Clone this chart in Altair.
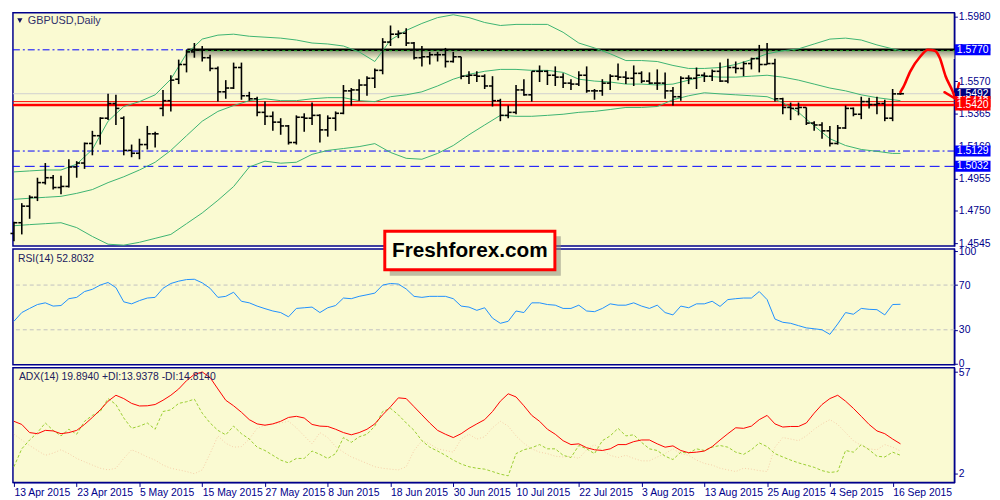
import pandas as pd
import altair as alt

# GBPUSD daily bars, 13 Apr 2015 .. 17 Sep 2015
open_ = [1.4607, 1.4675, 1.4780, 1.4836, 1.4929, 1.4960, 1.4898, 1.4905, 1.5028, 1.5053,
         1.5177, 1.5226, 1.5337, 1.5430, 1.5337, 1.5133, 1.5115, 1.5170, 1.5238, 1.5399,
         1.5448, 1.5584, 1.5677, 1.5757, 1.5770, 1.5720, 1.5652, 1.5504, 1.5528, 1.5658,
         1.5479, 1.5460, 1.5374, 1.5349, 1.5312, 1.5288, 1.5183, 1.5343, 1.5337, 1.5355,
         1.5263, 1.5337, 1.5368, 1.5510, 1.5516, 1.5547, 1.5590, 1.5640, 1.5819, 1.5869,
         1.5875, 1.5813, 1.5720, 1.5726, 1.5739, 1.5739, 1.5696, 1.5726, 1.5603, 1.5609,
         1.5603, 1.5541, 1.5448, 1.5355, 1.5374, 1.5516, 1.5485, 1.5634, 1.5634, 1.5609,
         1.5597, 1.5559, 1.5553, 1.5609, 1.5510, 1.5510, 1.5559, 1.5603, 1.5597, 1.5590,
         1.5621, 1.5572, 1.5559, 1.5559, 1.5510, 1.5473, 1.5590, 1.5590, 1.5609, 1.5603,
         1.5634, 1.5572, 1.5658, 1.5652, 1.5683, 1.5714, 1.5677, 1.5683, 1.5460, 1.5405,
         1.5399, 1.5405, 1.5306, 1.5294, 1.5257, 1.5177, 1.5275, 1.5399, 1.5362, 1.5442,
         1.5423, 1.5430, 1.5337, 1.5491]
high = [1.4681, 1.4799, 1.4849, 1.4960, 1.5053, 1.4978, 1.4972, 1.5077, 1.5065, 1.5183,
        1.5257, 1.5343, 1.5491, 1.5485, 1.5349, 1.5170, 1.5207, 1.5288, 1.5251, 1.5516,
        1.5609, 1.5708, 1.5770, 1.5813, 1.5794, 1.5739, 1.5665, 1.5578, 1.5689, 1.5689,
        1.5504, 1.5473, 1.5442, 1.5380, 1.5337, 1.5294, 1.5355, 1.5368, 1.5436, 1.5362,
        1.5355, 1.5380, 1.5547, 1.5528, 1.5584, 1.5603, 1.5652, 1.5844, 1.5924, 1.5893,
        1.5906, 1.5819, 1.5794, 1.5757, 1.5757, 1.5782, 1.5757, 1.5726, 1.5634, 1.5634,
        1.5615, 1.5603, 1.5460, 1.5417, 1.5547, 1.5584, 1.5634, 1.5671, 1.5640, 1.5665,
        1.5621, 1.5584, 1.5634, 1.5665, 1.5522, 1.5584, 1.5615, 1.5683, 1.5634, 1.5671,
        1.5634, 1.5627, 1.5646, 1.5627, 1.5535, 1.5603, 1.5609, 1.5658, 1.5627, 1.5646,
        1.5689, 1.5714, 1.5696, 1.5696, 1.5720, 1.5801, 1.5813, 1.5714, 1.5467, 1.5436,
        1.5436, 1.5405, 1.5318, 1.5312, 1.5288, 1.5294, 1.5417, 1.5405, 1.5473, 1.5467,
        1.5473, 1.5454, 1.5522, 1.5504]
low = [1.4557, 1.4601, 1.4700, 1.4812, 1.4917, 1.4886, 1.4855, 1.4898, 1.4960, 1.5016,
       1.5102, 1.5170, 1.5325, 1.5294, 1.5102, 1.5090, 1.5077, 1.5139, 1.5152, 1.5349,
       1.5380, 1.5553, 1.5627, 1.5720, 1.5696, 1.5634, 1.5442, 1.5460, 1.5522, 1.5454,
       1.5448, 1.5349, 1.5294, 1.5257, 1.5232, 1.5170, 1.5170, 1.5251, 1.5294, 1.5183,
       1.5220, 1.5257, 1.5362, 1.5417, 1.5448, 1.5479, 1.5528, 1.5615, 1.5794, 1.5844,
       1.5794, 1.5708, 1.5665, 1.5677, 1.5696, 1.5658, 1.5689, 1.5584, 1.5553, 1.5566,
       1.5522, 1.5411, 1.5318, 1.5337, 1.5362, 1.5479, 1.5442, 1.5566, 1.5547, 1.5541,
       1.5528, 1.5516, 1.5541, 1.5498, 1.5454, 1.5479, 1.5516, 1.5578, 1.5553, 1.5541,
       1.5559, 1.5553, 1.5516, 1.5460, 1.5417, 1.5448, 1.5553, 1.5522, 1.5566, 1.5572,
       1.5566, 1.5559, 1.5621, 1.5603, 1.5646, 1.5627, 1.5677, 1.5442, 1.5362, 1.5325,
       1.5355, 1.5294, 1.5257, 1.5207, 1.5158, 1.5170, 1.5269, 1.5349, 1.5331, 1.5399,
       1.5362, 1.5318, 1.5318, 1.5485]
close = [1.4675, 1.4780, 1.4836, 1.4929, 1.4960, 1.4898, 1.4905, 1.5028, 1.5053, 1.5177,
         1.5226, 1.5337, 1.5430, 1.5399, 1.5133, 1.5115, 1.5170, 1.5238, 1.5238, 1.5448,
         1.5578, 1.5677, 1.5757, 1.5770, 1.5720, 1.5652, 1.5504, 1.5528, 1.5658, 1.5479,
         1.5460, 1.5374, 1.5349, 1.5312, 1.5288, 1.5183, 1.5343, 1.5337, 1.5355, 1.5263,
         1.5337, 1.5368, 1.5510, 1.5516, 1.5547, 1.5590, 1.5640, 1.5819, 1.5869, 1.5875,
         1.5813, 1.5720, 1.5726, 1.5739, 1.5739, 1.5696, 1.5726, 1.5603, 1.5609, 1.5603,
         1.5541, 1.5448, 1.5355, 1.5374, 1.5516, 1.5485, 1.5634, 1.5634, 1.5609, 1.5597,
         1.5559, 1.5553, 1.5609, 1.5510, 1.5510, 1.5559, 1.5603, 1.5597, 1.5590, 1.5621,
         1.5572, 1.5559, 1.5559, 1.5510, 1.5473, 1.5590, 1.5590, 1.5609, 1.5603, 1.5634,
         1.5572, 1.5658, 1.5652, 1.5683, 1.5714, 1.5677, 1.5683, 1.5460, 1.5405, 1.5399,
         1.5405, 1.5306, 1.5294, 1.5257, 1.5177, 1.5275, 1.5399, 1.5362, 1.5442, 1.5423,
         1.5430, 1.5337, 1.5491, 1.5492]

# Bollinger bands (20), read every second bar
band_idx = list(range(0, 113, 2)) + [113]
bb_upper = [1.4997, 1.5003, 1.5009, 1.5009, 1.5046, 1.5139, 1.5318, 1.5411, 1.5442, 1.5485,
            1.5584, 1.5745, 1.5838, 1.5863, 1.5869, 1.5856, 1.5850, 1.5844, 1.5832, 1.5813,
            1.5807, 1.5794, 1.5757, 1.5696, 1.5832, 1.5893, 1.5937, 1.5974, 1.5992, 1.5974,
            1.5943, 1.5924, 1.5931, 1.5931, 1.5931, 1.5881, 1.5813, 1.5782, 1.5745, 1.5702,
            1.5702, 1.5696, 1.5671, 1.5652, 1.5652, 1.5658, 1.5677, 1.5708, 1.5745, 1.5764,
            1.5776, 1.5807, 1.5838, 1.5844, 1.5832, 1.5801, 1.5776, 1.5764]
bb_middle = [1.4823, 1.4830, 1.4836, 1.4842, 1.4861, 1.4885, 1.4929, 1.4966, 1.5009, 1.5058,
             1.5133, 1.5226, 1.5318, 1.5380, 1.5417, 1.5448, 1.5460, 1.5448, 1.5448, 1.5460,
             1.5467, 1.5467, 1.5448, 1.5442, 1.5473, 1.5485, 1.5504, 1.5541, 1.5584, 1.5615,
             1.5634, 1.5646, 1.5646, 1.5640, 1.5640, 1.5627, 1.5584, 1.5572, 1.5566, 1.5553,
             1.5553, 1.5547, 1.5553, 1.5578, 1.5603, 1.5597, 1.5597, 1.5603, 1.5609, 1.5597,
             1.5578, 1.5553, 1.5528, 1.5510, 1.5485, 1.5467, 1.5454, 1.5448]
bb_lower = [1.4656, 1.4663, 1.4669, 1.4675, 1.4644, 1.4588, 1.4539, 1.4533, 1.4551, 1.4576,
            1.4601, 1.4669, 1.4737, 1.4817, 1.4904, 1.5028, 1.5065, 1.5052, 1.5058, 1.5108,
            1.5133, 1.5145, 1.5157, 1.5176, 1.5120, 1.5083, 1.5077, 1.5114, 1.5164, 1.5232,
            1.5294, 1.5355, 1.5349, 1.5349, 1.5355, 1.5362, 1.5374, 1.5380, 1.5392, 1.5405,
            1.5405, 1.5411, 1.5454, 1.5479, 1.5498, 1.5491, 1.5485, 1.5479, 1.5473, 1.5436,
            1.5374, 1.5288, 1.5207, 1.5164, 1.5139, 1.5127, 1.5114, 1.5114]

rsi = [37.6, 45.4, 49.1, 52.6, 54.1, 51.2, 51.7, 57.8, 59.0, 64.2,
       66.2, 70.0, 72.3, 67.7, 55.0, 53.2, 56.1, 58.4, 59.0, 67.1,
       71.4, 73.5, 74.9, 75.2, 72.0, 67.1, 59.0, 59.9, 63.6, 55.5,
       54.1, 51.2, 48.9, 46.8, 45.4, 41.6, 49.1, 49.7, 50.3, 45.4,
       49.7, 51.7, 58.4, 57.8, 59.9, 61.3, 62.8, 70.0, 71.4, 70.9,
       66.5, 59.9, 59.0, 59.9, 59.9, 59.9, 57.8, 51.2, 50.3, 47.4,
       49.7, 40.4, 35.8, 37.6, 46.8, 45.4, 54.1, 54.1, 52.6, 52.0,
       49.1, 49.1, 52.0, 46.8, 46.2, 49.1, 53.2, 52.0, 52.0, 54.1,
       51.2, 49.1, 52.0, 45.4, 43.3, 51.2, 49.7, 53.2, 53.2, 55.5,
       50.9, 57.0, 57.8, 58.4, 58.4, 64.2, 57.0, 39.6, 36.7, 35.8,
       33.7, 31.7, 30.9, 30.0, 25.9, 35.2, 45.4, 43.9, 49.1, 48.3,
       48.0, 43.3, 52.6, 52.8]
adx = [30.4, 28.7, 24.3, 23.7, 25.5, 25.2, 23.7, 24.3, 25.5, 28.7,
       32.5, 36.6, 41.3, 44.5, 42.7, 40.1, 38.7, 38.8, 39.5, 41.8,
       44.5, 47.9, 52.4, 55.8, 57.1, 54.1, 47.9, 41.8, 38.8, 35.3,
       31.3, 29.0, 28.3, 29.0, 30.4, 32.5, 33.1, 32.2, 28.7, 27.8,
       27.6, 26.1, 24.3, 23.1, 24.3, 26.1, 29.0, 33.9, 38.3, 43.1,
       42.7, 38.3, 33.9, 29.5, 25.5, 23.4, 21.6, 23.7, 26.6, 29.0,
       31.3, 35.7, 41.3, 45.3, 43.6, 38.8, 33.6, 30.4, 26.1, 23.4,
       19.9, 17.8, 18.2, 16.1, 15.0, 14.6, 15.5, 17.8, 17.8, 19.4,
       20.3, 20.3, 18.2, 16.4, 17.1, 14.6, 13.4, 13.7, 14.3, 16.7,
       20.3, 23.7, 26.9, 26.6, 27.8, 31.3, 33.6, 29.0, 27.3, 27.6,
       27.6, 29.5, 34.8, 39.5, 42.7, 44.5, 41.3, 37.4, 33.1, 28.7,
       25.2, 23.7, 20.8, 18.2]
plus_di = [5.8, 15.5, 20.3, 24.3, 29.5, 25.5, 22.5, 26.1, 23.4, 30.4,
           33.6, 35.7, 42.7, 39.5, 32.2, 26.6, 27.8, 29.5, 26.1, 35.7,
           36.6, 40.1, 41.0, 42.4, 34.8, 29.5, 25.5, 23.1, 27.8, 23.7,
           20.8, 16.4, 14.6, 12.0, 9.4, 7.9, 10.3, 10.3, 14.3, 12.5,
           10.3, 12.9, 21.6, 19.0, 22.0, 23.4, 27.8, 35.7, 37.4, 33.9,
           29.5, 25.5, 19.9, 16.4, 14.3, 12.0, 9.4, 7.3, 5.8, 5.0,
           4.5, 3.2, 1.8, 0.9, 12.9, 15.0, 16.1, 17.8, 15.5, 15.5,
           12.0, 10.8, 17.3, 15.5, 12.9, 19.9, 22.5, 26.6, 22.5, 23.1,
           19.0, 15.5, 14.6, 11.5, 9.7, 13.7, 13.2, 15.5, 14.6, 16.4,
           17.3, 16.4, 13.7, 12.5, 15.0, 18.7, 16.7, 12.9, 11.1, 9.4,
           7.9, 6.7, 5.5, 3.7, 2.7, 3.2, 14.6, 13.7, 17.8, 15.0,
           11.5, 11.1, 13.7, 12.0]
minus_di = [23.4, 20.3, 17.3, 14.6, 12.0, 13.2, 15.0, 12.9, 10.3, 8.5,
            6.7, 5.0, 4.1, 5.0, 10.3, 15.0, 13.2, 11.1, 9.4, 6.7,
            5.0, 4.1, 3.2, 2.0, 4.1, 12.9, 22.5, 18.5, 16.4, 16.7,
            20.8, 26.6, 28.3, 29.0, 29.5, 30.4, 26.9, 22.5, 18.2, 24.3,
            21.6, 16.7, 13.7, 11.1, 9.4, 7.6, 5.8, 5.0, 4.5, 4.1,
            5.8, 14.6, 19.9, 18.2, 15.5, 14.6, 13.7, 20.8, 23.4, 20.8,
            22.0, 26.9, 30.4, 27.8, 22.5, 18.5, 15.5, 13.7, 12.9, 11.5,
            11.1, 11.5, 10.3, 15.0, 17.8, 14.6, 12.0, 10.8, 12.0, 10.3,
            9.0, 9.0, 11.1, 12.9, 15.5, 12.9, 12.0, 9.4, 7.6, 6.7,
            5.0, 4.1, 3.2, 5.0, 4.5, 3.7, 3.2, 16.4, 21.6, 20.8,
            19.9, 22.5, 26.1, 29.0, 31.3, 28.7, 24.3, 19.9, 17.3, 15.5,
            15.0, 17.8, 16.4, 14.3]

date_labels = ['13 Apr 2015', '23 Apr 2015', '5 May 2015', '15 May 2015', '27 May 2015',
               '8 Jun 2015', '18 Jun 2015', '30 Jun 2015', '10 Jul 2015', '22 Jul 2015',
               '3 Aug 2015', '13 Aug 2015', '25 Aug 2015', '4 Sep 2015', '16 Sep 2015']
date_ticks = list(range(0, 113, 8))
price_ticks = [1.4545, 1.4750, 1.4955, 1.5160, 1.5365, 1.5570, 1.5775, 1.5980]

# marked levels and their price boxes on the right scale
level_price = [1.5770, 1.5492, 1.5442, 1.5129, 1.5032]
level_kind = ['line', 'bid', 'pivot', 'line', 'line']
pivot_price = 1.5420
resistance_start = 22.1

# hand-drawn forecast arrow
arrow_x = [113.0, 113.375, 114.25, 115.5, 116.5, 117.375, 118.0, 118.75, 119.625, 120.0]
arrow_y = [1.5504, 1.5535, 1.5634, 1.5726, 1.5770, 1.5764, 1.5720, 1.5603, 1.5510, 1.5460]
head_x = [118.6, 120.0, 120.46]
head_y = [1.5502, 1.5460, 1.5559]

W = 952
navy = '#00008B'
font = 'Liberation Sans'
XDOM = [-0.125, 119.875]

bars = pd.DataFrame({'idx': range(len(close)), 'open': open_, 'high': high, 'low': low, 'close': close})
bands = pd.DataFrame({'idx': band_idx, 'upper': bb_upper, 'middle': bb_middle, 'lower': bb_lower})
ind = pd.DataFrame({'idx': range(len(rsi)), 'rsi': rsi, 'adx': adx, 'plus_di': plus_di, 'minus_di': minus_di})

x_enc = alt.X('idx:Q', scale=alt.Scale(domain=XDOM, nice=False, zero=False), axis=None)


def right_axis(values, fmt):
    return alt.Axis(orient='right', values=values, format=fmt, title=None, grid=False,
                    labelColor=navy, tickColor=navy, domainColor=navy, labelFont=font,
                    labelFontSize=10.5, tickSize=3, labelPadding=1, labelBaseline='middle')


price_scale = alt.Scale(domain=[1.4527, 1.6005], nice=False, zero=False)


def py(field):
    return alt.Y(field, scale=price_scale, axis=right_axis(price_ticks, '.4f'), title=None)


# horizontal levels
def hline(price, **kw):
    return alt.Chart(pd.DataFrame({'price': [price]})).mark_rule(**kw).encode(y=py('price:Q'))


bid_line = hline(1.5492, color='#CFCFCF', strokeWidth=1)
red_thin = hline(1.5442, color='#FF0000', strokeWidth=1)
red_thick = hline(pivot_price, color='#FF0000', strokeWidth=2.6)
blue_top = hline(1.5770, color='#0000FF', strokeWidth=1, strokeDash=[7, 3, 2, 3])
blue_mid = hline(1.5129, color='#0000FF', strokeWidth=1, strokeDash=[7, 3, 2, 3])
blue_low = hline(1.5032, color='#0000FF', strokeWidth=1, strokeDash=[10, 5])

res_df = pd.DataFrame({'start': [resistance_start], 'end': [XDOM[1]], 'price': [1.5770]})
res_x = alt.X('start:Q', scale=alt.Scale(domain=XDOM, nice=False, zero=False), axis=None)
res_shadow = alt.Chart(res_df).transform_calculate(
    bottom='datum.price - 0.0058'
).mark_rect(
    fill=alt.Gradient(gradient='linear', x1=0, x2=0, y1=0, y2=1,
                      stops=[alt.GradientStop(color='#7E7E70', offset=0),
                             alt.GradientStop(color='#FAFAD2', offset=1)]),
    opacity=0.9
).encode(x=res_x, x2='end:Q', y=py('price:Q'), y2='bottom:Q')
res_line = alt.Chart(res_df).mark_rule(color='black', strokeWidth=2.5).encode(
    x=res_x, x2='end:Q', y=py('price:Q'))
res_green = alt.Chart(res_df).mark_rule(color='#32CD32', strokeWidth=1, strokeDash=[3, 3], yOffset=1).encode(
    x=res_x, x2='end:Q', y=py('price:Q'))

band_lines = alt.Chart(bands).transform_fold(
    ['upper', 'middle', 'lower'], as_=['band', 'value']
).mark_line(color='#3CB371', strokeWidth=1).encode(x=x_enc, y=py('value:Q'), detail='band:N')

hl = alt.Chart(bars).mark_rule(color='black', strokeWidth=1.6).encode(
    x=x_enc, y=py('low:Q'), y2='high:Q')
op = alt.Chart(bars).mark_rule(color='black', strokeWidth=1.6, xOffset=-3.5).encode(
    x=x_enc, x2='idx:Q', y=py('open:Q'))
cl = alt.Chart(bars).mark_rule(color='black', strokeWidth=1.6, x2Offset=3.5).encode(
    x=x_enc, x2='idx:Q', y=py('close:Q'))

arrow_xs = alt.X('ax:Q', scale=alt.Scale(domain=XDOM, nice=False, zero=False), axis=None)
arrow = alt.Chart(pd.DataFrame({'ax': arrow_x, 'ay': arrow_y})).mark_line(
    color='#FF0000', strokeWidth=2.6, interpolate='monotone', strokeCap='round'
).encode(x=arrow_xs, y=py('ay:Q'))
head = alt.Chart(pd.DataFrame({'ax': head_x, 'ay': head_y})).mark_line(
    color='#FF0000', strokeWidth=2.4, strokeCap='round', strokeJoin='round'
).encode(x=arrow_xs, y=py('ay:Q'), order='ax:Q')

BOX = 'M-1,-0.31L1,-0.31L1,0.31L-1,0.31Z'
box_colors = alt.Scale(domain=['line', 'bid', 'pivot'], range=['#0000FF', '#000080', '#FF0000'])
levels = pd.DataFrame({'price': level_price, 'kind': level_kind})
levels['label'] = levels['price'].map(lambda v: f'{v:.4f}')
pivot = pd.DataFrame({'price': [pivot_price], 'kind': ['pivot'], 'label': [f'{pivot_price:.4f}']})


def level_boxes(df):
    box = alt.Chart(df).mark_point(shape=BOX, size=1296, filled=True, opacity=1, strokeWidth=0).encode(
        x=alt.value(W + 18.5), y=py('price:Q'), color=alt.Color('kind:N', scale=box_colors, legend=None))
    txt = alt.Chart(df).mark_text(color='white', font=font, fontSize=10.5, baseline='middle').encode(
        x=alt.value(W + 18.5), y=py('price:Q'), text='label:N')
    return box + txt


title_df = pd.DataFrame({'label': ['GBPUSD,Daily']})
tri = alt.Chart(title_df).mark_point(shape='triangle-down', filled=True, size=28, color='#101060', opacity=1).encode(
    x=alt.value(7), y=alt.value(8))
title = alt.Chart(title_df).mark_text(align='left', baseline='middle', font=font, fontSize=11,
                                      color='#30306A').encode(x=alt.value(15), y=alt.value(8), text='label:N')

price = alt.layer(
    bid_line, blue_top, blue_mid, blue_low, red_thin, red_thick,
    res_shadow, res_line, res_green, band_lines, hl, op, cl, arrow, head,
    level_boxes(levels), level_boxes(pivot), tri, title
).properties(width=W, height=236)

# RSI panel
rsi_scale = alt.Scale(domain=[-1.3, 102.2], nice=False, zero=False)


def ry(field):
    return alt.Y(field, scale=rsi_scale, axis=right_axis([0, 30, 70, 100], 'd'), title=None)


rsi_levels = alt.Chart(pd.DataFrame({'level': [30, 70]})).mark_rule(
    color='#C0C0C0', strokeDash=[4, 3], strokeWidth=1).encode(y=ry('level:Q'))
rsi_line = alt.Chart(ind).mark_line(color='#1E90FF', strokeWidth=1).encode(x=x_enc, y=ry('rsi:Q'))
rsi_title = alt.Chart(pd.DataFrame({'label': ['RSI(14) 52.8032']})).mark_text(
    align='left', baseline='middle', font=font, fontSize=10.5, color='#20205E'
).encode(x=alt.value(5), y=alt.value(10), text='label:N')

logo_df = pd.DataFrame({'label': ['Freshforex.com']})
logo_shadow = alt.Chart(logo_df).mark_rect(fill='#8C8C7C', opacity=0.55).encode(
    x=alt.value(381), x2=alt.value(554), y=alt.value(-13), y2=alt.value(27))
logo_box = alt.Chart(logo_df).mark_rect(fill='#FFFFE0', stroke='#FF0000', strokeWidth=3).encode(
    x=alt.value(376), x2=alt.value(548), y=alt.value(-18), y2=alt.value(21))
logo_text = alt.Chart(logo_df).mark_text(font=font, fontSize=21, fontWeight='bold', color='black',
                                         baseline='middle').encode(
    x=alt.value(462), y=alt.value(2), text='label:N')

rsi_panel = alt.layer(rsi_levels, rsi_line, rsi_title, logo_shadow, logo_box, logo_text).properties(
    width=W, height=117)

# ADX panel
adx_scale = alt.Scale(domain=[-2.7, 59.4], nice=False, zero=False)
label_expr = '[' + ','.join(f"'{d}'" for d in date_labels) + '][round(datum.value / 8)]'
x_bottom = alt.X('idx:Q', scale=alt.Scale(domain=XDOM, nice=False, zero=False), title=None,
                 axis=alt.Axis(values=date_ticks, labelExpr=label_expr, labelAlign='left',
                               labelColor=navy, tickColor=navy, domainColor=navy, labelFont=font,
                               labelFontSize=10.5, tickSize=4, labelPadding=1, grid=False,
                               labelFlush=False, labelOverlap=False))


def ay(field):
    return alt.Y(field, scale=adx_scale, axis=right_axis([2, 57], 'd'), title=None)


minus_line = alt.Chart(ind).mark_line(color='#F5CDA8', strokeWidth=1, strokeDash=[1, 2]).encode(
    x=x_bottom, y=ay('minus_di:Q'))
plus_line = alt.Chart(ind).mark_line(color='#9ACD32', strokeWidth=1, strokeDash=[3, 2]).encode(
    x=x_bottom, y=ay('plus_di:Q'))
adx_line = alt.Chart(ind).mark_line(color='#FF0000', strokeWidth=1).encode(x=x_bottom, y=ay('adx:Q'))
adx_title = alt.Chart(pd.DataFrame({'label': ['ADX(14) 19.8940 +DI:13.9378 -DI:14.8140']})).mark_text(
    align='left', baseline='middle', font=font, fontSize=10.5, color='#20205E'
).encode(x=alt.value(6), y=alt.value(9), text='label:N')

adx_panel = alt.layer(minus_line, plus_line, adx_line, adx_title).properties(width=W, height=116)

chart = alt.vconcat(price, rsi_panel, adx_panel, spacing=3, bounds='flush').properties(
    padding={'left': 0, 'top': 0, 'right': 0, 'bottom': 0}, background='white'
).configure_view(fill='#FAFAD2', stroke=navy, strokeWidth=1.5)

chart.save("out.html", embed_options={"renderer": "svg", "actions": False})
